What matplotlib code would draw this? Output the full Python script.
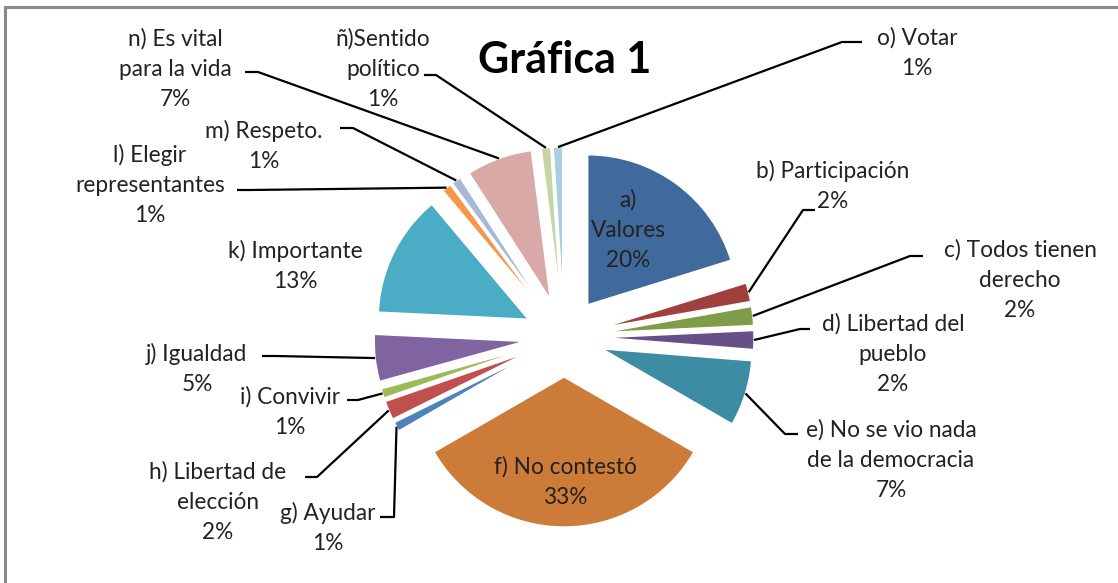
import matplotlib
matplotlib.use('Agg')
import matplotlib.pyplot as plt
import numpy as np

# ---------------- data ----------------
names = ["a)\nValores", "b) Participación", "c) Todos tienen\nderecho",
         "d) Libertad del\npueblo", "e) No se vio nada\nde la democracia",
         "f) No contestó", "g) Ayudar", "h) Libertad de\nelección",
         "i) Convivir", "j) Igualdad", "k) Importante",
         "l) Elegir\nrepresentantes", "m) Respeto.", "n) Es vital\npara la vida",
         "ñ)Sentido\npolítico", "o) Votar"]
percentages = [20, 2, 2, 2, 7, 33, 1, 2, 1, 5, 13, 1, 1, 7, 1, 1]
colors = ['#406A9C', '#A0403E', '#809C48', '#684F88', '#3C8DA3', '#CC7B38',
          '#4F81BD', '#C0504D', '#9BBB59', '#8064A2', '#4BACC6', '#F79646',
          '#A7B9DA', '#D9A9A8', '#C4D6A4', '#A8CEDF']
title = "Gráfica 1"

# ---------------- layout (pixel coordinates, y from top) ----------------
W, H = 1118, 583
pie_center = (564, 337)
pie_radius = 150
explode_px = 40
# text block centre for each label
text_pos = [(628, 230), (833, 186), (1020, 280), (893, 354), (891, 460),
            (565, 482), (328, 528), (218, 502), (290, 412), (197, 369),
            (295, 266), (150, 185), (264, 146), (175, 69), (383, 69), (917, 53)]
# leader line: anchor next to text and elbow point (None = no leader)
leaders = [None,
           ((815, 210), (803, 210)),
           ((923, 256), (910, 256)),
           ((810, 329), (800, 329)),
           ((798, 434), (785, 434)),
           None,
           ((380, 517), (394, 517)),
           ((305, 477), (317, 477)),
           ((347, 400), (358, 400)),
           ((262, 356), (275, 356)),
           None,
           ((237, 190), (250, 190)),
           ((340, 128), (353, 128)),
           ((245, 72), (258, 72)),
           ((424, 75), (436, 75)),
           ((862, 42), (842, 42))]

FONT = ['Lato', 'DejaVu Sans']
plt.rcParams['font.family'] = FONT

fig = plt.figure(figsize=(W / 100, H / 100), dpi=100)
ax = fig.add_axes([0, 0, 1, 1])

def P(x, y):
    return (x, H - y)

wedges, _ = ax.pie(percentages, colors=colors, startangle=90, counterclock=False,
                   radius=pie_radius, center=P(*pie_center),
                   explode=[explode_px] * len(percentages),
                   wedgeprops=dict(edgecolor='white', linewidth=1))
ax.set_xlim(0, W)
ax.set_ylim(0, H)
ax.set_aspect('equal')
ax.axis('off')

text_color = '#222222'
for i, (w, name, p) in enumerate(zip(wedges, names, percentages)):
    tx, ty = text_pos[i]
    ax.text(*P(tx, ty), f"{name}\n{p}%", ha='center', va='center',
            fontsize=16.3, color=text_color, linespacing=1.54)
    if leaders[i] is not None:
        (axp, ayp), (ex, ey) = leaders[i]
        th = np.deg2rad((w.theta1 + w.theta2) / 2)
        cx, cy = w.center
        px = cx + w.r * np.cos(th)
        py = cy + w.r * np.sin(th)
        ax.plot([P(axp, ayp)[0], P(ex, ey)[0], px],
                [P(axp, ayp)[1], P(ex, ey)[1], py],
                color='black', lw=1.6, solid_capstyle='butt')

ax.text(*P(565, 60), title, ha='center', va='center', fontsize=31,
        fontweight='bold', color='black')

# chart frame (top and left edges visible)
ax.plot([5, W], [H - 7, H - 7], color='#8a8a8a', lw=2.2)
ax.plot([5, 5], [H - 7, 0], color='#8a8a8a', lw=2.2)

fig.savefig('out.png', dpi=100)
